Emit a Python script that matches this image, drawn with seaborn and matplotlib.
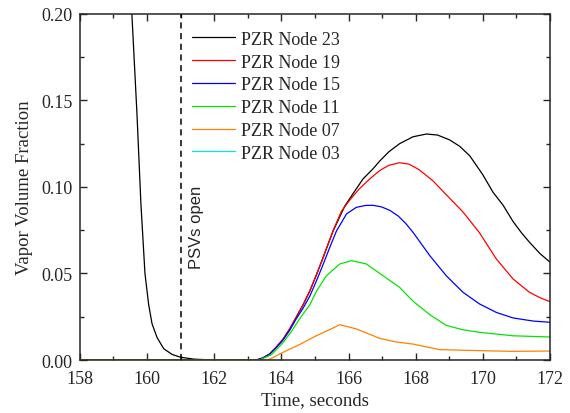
import numpy as np
import pandas as pd
import seaborn as sns
import matplotlib
matplotlib.use("Agg")
import matplotlib.pyplot as plt
from matplotlib.ticker import AutoMinorLocator, FormatStrFormatter

# values
t23 = [159.40, 159.55, 159.70, 159.82, 159.94, 160.05, 160.15, 160.30, 160.50, 160.75, 161.00, 161.40, 162.00,
       163.26, 163.45, 163.65, 163.85, 164.05, 164.25, 164.45, 164.65, 164.85, 165.04, 165.24, 165.54,
       165.89, 166.13, 166.43, 166.73, 166.93, 167.20, 167.52, 167.92, 168.32, 168.65, 169.01, 169.31,
       169.61, 170.00, 170.30, 170.60, 170.90, 171.15, 171.39, 171.70, 172.00]
v23 = [0.250, 0.200, 0.143, 0.090, 0.050, 0.032, 0.021, 0.013, 0.0065, 0.0032, 0.0016, 0.0005, 0.0,
       0.0, 0.0012, 0.0035, 0.0075, 0.012, 0.018, 0.025, 0.032, 0.040, 0.049, 0.059, 0.0745,
       0.0890, 0.096, 0.1046, 0.1105, 0.1150, 0.1203, 0.1250, 0.1290, 0.1306, 0.1300, 0.1272, 0.1235,
       0.1180, 0.1070, 0.0970, 0.0895, 0.0800, 0.0735, 0.0680, 0.0615, 0.0565]

t19 = [158.00, 163.26, 163.45, 163.65, 163.85, 164.05, 164.25, 164.45, 164.65, 164.85, 165.04, 165.24,
       165.54, 165.79, 166.00, 166.30, 166.63, 166.93, 167.20, 167.52, 167.80, 168.10, 168.51, 169.01,
       169.41, 169.90, 170.40, 170.90, 171.39, 171.70, 172.00]
v19 = [0.0, 0.0, 0.0012, 0.0035, 0.0075, 0.012, 0.018, 0.025, 0.032, 0.040, 0.049, 0.059,
       0.0748, 0.0860, 0.0915, 0.0985, 0.1046, 0.1095, 0.1125, 0.1140, 0.1132, 0.1100, 0.1036, 0.0935,
       0.0855, 0.0735, 0.0584, 0.0468, 0.0391, 0.0360, 0.0337]

t15 = [158.00, 163.26, 163.45, 163.65, 163.85, 164.05, 164.25, 164.45, 164.65, 164.85, 165.04, 165.24,
       165.44, 165.64, 165.94, 166.23, 166.50, 166.73, 166.98, 167.23, 167.48, 167.70, 167.92, 168.42,
       168.91, 169.41, 169.90, 170.40, 170.90, 171.50, 172.00]
v15 = [0.0, 0.0, 0.0011, 0.0033, 0.0072, 0.0115, 0.0172, 0.024, 0.030, 0.037, 0.0455, 0.055,
       0.0650, 0.0745, 0.0844, 0.0882, 0.0893, 0.0894, 0.0885, 0.0865, 0.0832, 0.0790, 0.0738, 0.0603,
       0.0487, 0.0391, 0.0324, 0.0275, 0.0243, 0.0225, 0.0218]

t11 = [158.00, 163.35, 163.70, 164.05, 164.30, 164.55, 164.85, 165.04, 165.34, 165.74, 166.09, 166.53,
       167.03, 167.52, 167.92, 168.42, 168.91, 169.40, 169.90, 170.90, 172.00]
v11 = [0.0, 0.0, 0.003, 0.0100, 0.0165, 0.0240, 0.0320, 0.0395, 0.0487, 0.0555, 0.0574, 0.0555,
       0.0487, 0.042, 0.0340, 0.0262, 0.020, 0.0175, 0.016, 0.014, 0.0133]

t07 = [158.00, 163.60, 164.05, 164.55, 165.04, 165.40, 165.74, 166.23, 166.93, 167.40, 167.92, 168.71,
       169.90, 170.90, 172.00]
v07 = [0.0, 0.0, 0.0044, 0.009, 0.014, 0.0172, 0.0204, 0.018, 0.0125, 0.0105, 0.0092, 0.006,
       0.0054, 0.0050, 0.0052]

t03 = [158.00, 172.00]
v03 = [0.0, 0.0]

names = ["PZR Node 23", "PZR Node 19", "PZR Node 15", "PZR Node 11", "PZR Node 07", "PZR Node 03"]
colors = ["black", "#ff0000", "#0000ff", "#00e600", "#ff8000", "#00e5e5"]

frames = []
for name, t, v in zip(names, [t23, t19, t15, t11, t07, t03], [v23, v19, v15, v11, v07, v03]):
    frames.append(pd.DataFrame({"time": t, "frac": v, "node": name}))
df = pd.concat(frames, ignore_index=True)

sns.set_style("ticks")
plt.rcParams["font.family"] = ["Liberation Serif", "DejaVu Serif"]

fig = plt.figure(figsize=(5.7, 4.14), dpi=100)
ax = fig.add_axes([0.140, 0.128, 0.825, 0.836])

sns.lineplot(data=df, x="time", y="frac", hue="node", hue_order=names,
             palette=dict(zip(names, colors)), estimator=None, sort=True,
             linewidth=0.9, ax=ax)

ax.axvline(161.0, color="black", linestyle=(0, (4, 3)), linewidth=1.1)
ax.text(161.25, 0.053, "PSVs open", rotation=90, ha="left", va="bottom",
        fontsize=12, family=["Liberation Sans", "DejaVu Sans"])

ax.set_xlim(158, 172)
ax.set_ylim(0, 0.20)
ax.set_xticks(np.arange(158, 173, 2))
ax.set_yticks([0.0, 0.05, 0.10, 0.15, 0.20])
ax.yaxis.set_major_formatter(FormatStrFormatter("%.2f"))
ax.xaxis.set_minor_locator(AutoMinorLocator(2))
ax.yaxis.set_minor_locator(AutoMinorLocator(2))
ax.tick_params(which="both", direction="in", top=True, right=True, labelsize=13, width=1)
ax.tick_params(which="major", length=5)
ax.tick_params(which="minor", length=3)
ax.tick_params(axis="x", pad=7)
ax.tick_params(axis="y", pad=5)
for s in ax.spines.values():
    s.set_linewidth(1.1)

ax.set_xlabel("Time, seconds", fontsize=13.5, labelpad=3)
ax.set_ylabel("Vapor Volume Fraction", fontsize=13.5, labelpad=6)

ax.legend(loc="upper left", bbox_to_anchor=(0.223, 0.972), frameon=False, fontsize=13,
          handlelength=2.4, handletextpad=0.3, labelspacing=0.32, borderaxespad=0)

fig.savefig("out.png", dpi=100)
